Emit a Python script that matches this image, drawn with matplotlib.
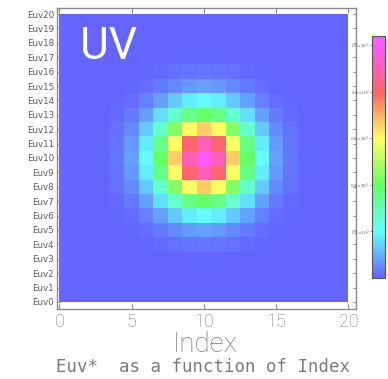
import numpy as np
import matplotlib
matplotlib.use("Agg")
import matplotlib.pyplot as plt
from matplotlib.colors import LinearSegmentedColormap, Normalize

# ---- data (in units of 10^2) ----
x_index = list(range(0, 21))
y_labels = [f"Euv{i}" for i in range(0, 21)]
rows = [
    [0, 0, 0, 0, 0, 0, 0, 0, 0, 0, 0, 0, 0, 0, 0, 0, 0, 0, 0, 0, 0],                      # Euv0
    [0, 0, 0, 0, 0, 0, 0, 0, 0, 0, 0, 0, 0, 0, 0, 0, 0, 0, 0, 0, 0],                      # Euv1
    [0, 0, 0, 0, 0, 0, 0, 0.1, 0.1, 0.1, 0.1, 0.1, 0.1, 0.1, 0, 0, 0, 0, 0, 0, 0],        # Euv2
    [0, 0, 0, 0, 0, 0.1, 0.1, 0.3, 0.4, 0.6, 0.7, 0.6, 0.4, 0.3, 0.1, 0.1, 0, 0, 0, 0, 0],  # Euv3
    [0, 0, 0, 0, 0.1, 0.2, 0.5, 1.0, 1.7, 2.3, 2.5, 2.3, 1.7, 1.0, 0.5, 0.2, 0.1, 0, 0, 0, 0],  # Euv4
    [0, 0, 0, 0.1, 0.2, 0.6, 1.5, 3.1, 5.2, 7.0, 7.8, 7.0, 5.2, 3.1, 1.5, 0.6, 0.2, 0.1, 0, 0, 0],  # Euv5
    [0, 0, 0, 0.1, 0.5, 1.5, 3.8, 7.8, 13.0, 17.6, 19.5, 17.6, 13.0, 7.8, 3.8, 1.5, 0.5, 0.1, 0, 0, 0],  # Euv6
    [0, 0, 0.1, 0.3, 1.0, 3.1, 7.8, 15.9, 26.5, 36.0, 39.9, 36.0, 26.5, 15.9, 7.8, 3.1, 1.0, 0.3, 0.1, 0, 0],  # Euv7
    [0, 0, 0.1, 0.4, 1.7, 5.2, 13.0, 26.5, 44.2, 60.0, 66.5, 60.0, 44.2, 26.5, 13.0, 5.2, 1.7, 0.4, 0.1, 0, 0],  # Euv8
    [0, 0, 0.1, 0.6, 2.3, 7.0, 17.6, 36.0, 60.0, 81.5, 90.3, 81.5, 60.0, 36.0, 17.6, 7.0, 2.3, 0.6, 0.1, 0, 0],  # Euv9
    [0, 0, 0.1, 0.7, 2.5, 7.8, 19.5, 39.9, 66.5, 90.3, 100.0, 90.3, 66.5, 39.9, 19.5, 7.8, 2.5, 0.7, 0.1, 0, 0],  # Euv10
    [0, 0, 0.1, 0.6, 2.3, 7.0, 17.6, 36.0, 60.0, 81.5, 90.3, 81.5, 60.0, 36.0, 17.6, 7.0, 2.3, 0.6, 0.1, 0, 0],  # Euv11
    [0, 0, 0.1, 0.4, 1.7, 5.2, 13.0, 26.5, 44.2, 60.0, 66.5, 60.0, 44.2, 26.5, 13.0, 5.2, 1.7, 0.4, 0.1, 0, 0],  # Euv12
    [0, 0, 0.1, 0.3, 1.0, 3.1, 7.8, 15.9, 26.5, 36.0, 39.9, 36.0, 26.5, 15.9, 7.8, 3.1, 1.0, 0.3, 0.1, 0, 0],  # Euv13
    [0, 0, 0, 0.1, 0.5, 1.5, 3.8, 7.8, 13.0, 17.6, 19.5, 17.6, 13.0, 7.8, 3.8, 1.5, 0.5, 0.1, 0, 0, 0],  # Euv14
    [0, 0, 0, 0.1, 0.2, 0.6, 1.5, 3.1, 5.2, 7.0, 7.8, 7.0, 5.2, 3.1, 1.5, 0.6, 0.2, 0.1, 0, 0, 0],  # Euv15
    [0, 0, 0, 0, 0.1, 0.2, 0.5, 1.0, 1.7, 2.3, 2.5, 2.3, 1.7, 1.0, 0.5, 0.2, 0.1, 0, 0, 0, 0],  # Euv16
    [0, 0, 0, 0, 0, 0.1, 0.1, 0.3, 0.4, 0.6, 0.7, 0.6, 0.4, 0.3, 0.1, 0.1, 0, 0, 0, 0, 0],  # Euv17
    [0, 0, 0, 0, 0, 0, 0, 0.1, 0.1, 0.1, 0.1, 0.1, 0.1, 0.1, 0, 0, 0, 0, 0, 0, 0],        # Euv18
    [0, 0, 0, 0, 0, 0, 0, 0, 0, 0, 0, 0, 0, 0, 0, 0, 0, 0, 0, 0, 0],                      # Euv19
    [0, 0, 0, 0, 0, 0, 0, 0, 0, 0, 0, 0, 0, 0, 0, 0, 0, 0, 0, 0, 0],                      # Euv20
]
x_ticks = [0, 5, 10, 15, 20]
cbar_ticks = [20, 40, 60, 80, 100]
cbar_max = 104
title_text = "UV"
xlabel_text = "Index"
caption_text = "Euv*  as a function of Index"

Z = np.array(rows, dtype=float)

# cell edges: cells centred on integers, clipped to [0, 20]
edges = np.concatenate([[0.0], np.arange(0.5, 20.0, 1.0), [20.0]])

cmap = LinearSegmentedColormap.from_list(
    "paw",
    [(0.0, "#6464ff"), (20 / cbar_max, "#64ffff"), (40 / cbar_max, "#64ff64"),
     (60 / cbar_max, "#ffff64"), (80 / cbar_max, "#ff6464"),
     (100 / cbar_max, "#ff5aff"), (1.0, "#ff5aff")])
norm = Normalize(vmin=0, vmax=cbar_max)

W, H = 388, 379
fig = plt.figure(figsize=(W / 100, H / 100), dpi=100)
fig.patch.set_facecolor("white")

frame_col = "#8a8a8a"
text_col = "#5a5a5a"
light_col = "#7a7a7a"

ax = fig.add_axes([57 / W, 1 - 309 / H, (356 - 57) / W, (309 - 8) / H])
mesh = ax.pcolormesh(edges, edges, Z, cmap=cmap, norm=norm, shading="flat")
ax.set_xlim(-0.17, 20.52)
ax.set_ylim(-0.49, 20.42)

for s in ax.spines.values():
    s.set_color(frame_col)
    s.set_linewidth(1.0)

ax.set_xticks(x_ticks)
ax.set_xticklabels([str(v) for v in x_ticks], fontsize=13, color=light_col,
                   family=["Roboto", "DejaVu Sans"], fontweight="light")
ax.set_yticks(range(0, 21))
ax.set_yticklabels(y_labels, fontsize=6.3, color=text_col)
ax.tick_params(axis="x", direction="in", length=3.5, color=frame_col,
               top=True, bottom=True, pad=3)
ax.tick_params(axis="y", direction="in", length=2.5, color=frame_col,
               left=True, right=True, pad=2)

ax.text(80 / W, 1 - 59 / H, title_text, transform=fig.transFigure,
        fontsize=32, color="white", family=["Roboto", "DejaVu Sans"],
        fontweight="normal", ha="left", va="baseline")

fig.text(205 / W, 1 - 345 / H, xlabel_text, fontsize=20, color=light_col,
         family=["Roboto", "DejaVu Sans"], fontweight="light",
         ha="center", va="center")
fig.text(203 / W, 1 - 367 / H, caption_text, fontsize=12.5, color=light_col,
         family=["DejaVu Sans Mono"], ha="center", va="center")

cax = fig.add_axes([372 / W, 1 - 278 / H, 13 / W, 242 / H])
cb = fig.colorbar(mesh, cax=cax)
cb.outline.set_edgecolor("#555555")
cb.outline.set_linewidth(0.8)
cax.yaxis.set_ticks_position("left")
cax.yaxis.set_label_position("left")
cb.set_ticks(cbar_ticks)
cb.set_ticklabels([f"{v/100:.1f}×10$^{{2}}$" for v in cbar_ticks])
cax.tick_params(labelsize=3, length=1.5, width=0.5, pad=0.5, colors=text_col)

fig.savefig("out.png", dpi=100, facecolor="white")
